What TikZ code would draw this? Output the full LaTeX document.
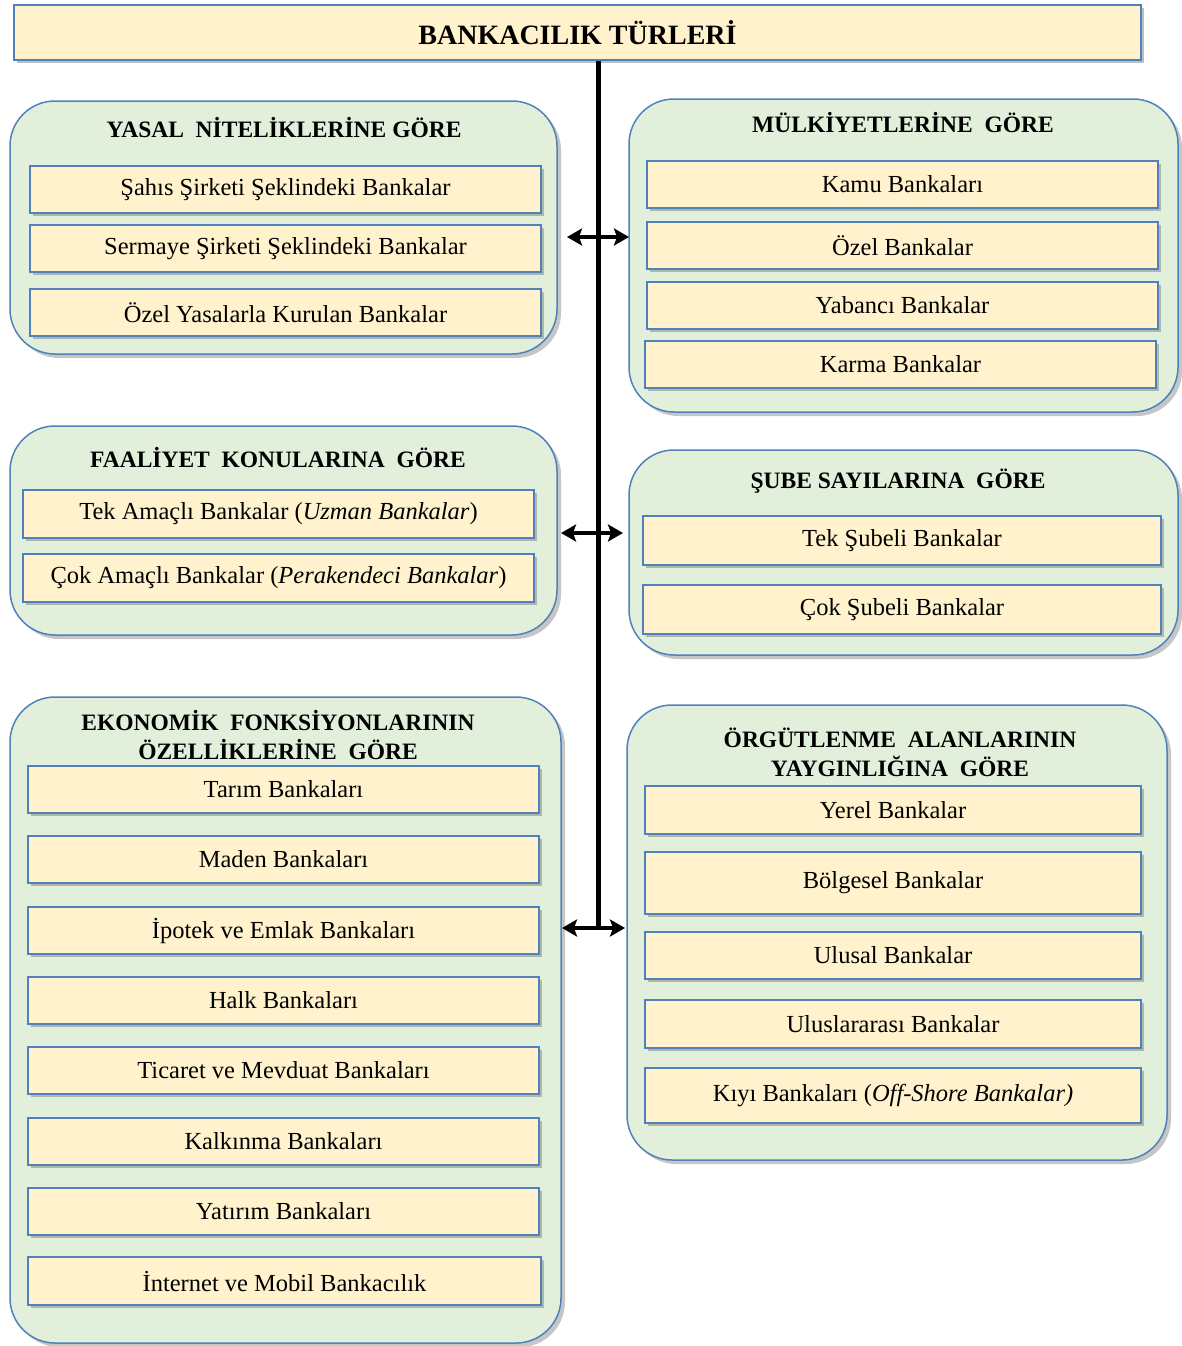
\documentclass[tikz,border=0pt]{standalone}
\usepackage{fontspec}
\setmainfont{Liberation Serif}
\usetikzlibrary{shadows,arrows.meta}
\definecolor{itemfill}{RGB}{255,242,204}
\definecolor{groupfill}{RGB}{226,239,218}
\definecolor{bordblue}{RGB}{79,129,189}
\tikzset{
  item/.style={draw=bordblue, line width=1.3pt, fill=itemfill, inner sep=0pt,
    drop shadow={opacity=0.5, shadow xshift=3pt, shadow yshift=-3pt},
    font=\fontsize{24.5}{28}\selectfont},
  group/.style={draw=bordblue, line width=1.5pt, fill=groupfill, rounded corners=45pt, inner sep=0pt,
    drop shadow={opacity=0.45, shadow xshift=4pt, shadow yshift=-4pt}},
  grouptitle/.style={font=\bfseries\fontsize{23.5}{29}\selectfont, align=center, inner sep=0pt},
  biarrow/.style={line width=4pt, {Stealth[length=15pt,width=17pt,inset=3pt]}-{Stealth[length=15pt,width=17pt,inset=3pt]}},
}
\newcommand\bx[7]{\node[#6, minimum width={(#4-#2)*1pt}, minimum height={(#5-#3)*1pt}] (#1) at ({(#2+#4)/2},{(#3+#5)/2}) {#7};}
\begin{document}
\begin{tikzpicture}[x=1pt,y=-1pt]
\useasboundingbox (0,0) rectangle (1181,1346);
% top
\bx{top}{14}{5}{1141}{60}{item}{\bfseries\fontsize{28}{32}\selectfont BANKACILIK TÜRLERİ}
% vertical spine
\coordinate (spinebot) at (598,928);
\draw[line width=5pt] (top.south -| spinebot) -- (spinebot);
% left groups
\bx{gA}{10}{101}{557}{354}{group}{}
\node[grouptitle] (tA) at (284,128) {YASAL~ NİTELİKLERİNE GÖRE};
\bx{a1}{30}{166}{541}{213}{item}{Şahıs Şirketi Şeklindeki Bankalar}
\bx{a2}{30}{225}{541}{272}{item}{Sermaye Şirketi Şeklindeki Bankalar}
\bx{a3}{30}{289}{541}{336}{item}{Özel Yasalarla Kurulan Bankalar}

\bx{gB}{10}{426}{557}{635}{group}{}
\node[grouptitle] (tB) at (278,458) {FAALİYET~ KONULARINA~ GÖRE};
\bx{b1}{23}{490}{534}{538}{item}{Tek Amaçlı Bankalar (\textit{Uzman Bankalar})}
\bx{b2}{23}{554}{534}{602}{item}{Çok Amaçlı Bankalar (\textit{Perakendeci Bankalar})}

\bx{gC}{10}{697}{561}{1343}{group}{}
\node[grouptitle] (tC) at (278,735) {EKONOMİK~ FONKSİYONLARININ\\ÖZELLİKLERİNE~ GÖRE};
\bx{c1}{28}{766}{539}{813}{item}{Tarım Bankaları}
\bx{c2}{28}{836}{539}{883}{item}{Maden Bankaları}
\bx{c3}{28}{907}{539}{954}{item}{İpotek ve Emlak Bankaları}
\bx{c4}{28}{977}{539}{1024}{item}{Halk Bankaları}
\bx{c5}{28}{1047}{539}{1094}{item}{Ticaret ve Mevduat Bankaları}
\bx{c6}{28}{1118}{539}{1165}{item}{Kalkınma Bankaları}
\bx{c7}{28}{1188}{539}{1235}{item}{Yatırım Bankaları}
\bx{c8}{28}{1257}{541}{1305}{item}{İnternet ve Mobil Bankacılık}
% right groups
\bx{gD}{629}{99}{1178}{412}{group}{}
\node[grouptitle] (tD) at (903,123) {MÜLKİYETLERİNE~ GÖRE};
\bx{d1}{647}{161}{1158}{208}{item}{Kamu Bankaları}
\bx{d2}{647}{222}{1158}{269}{item}{Özel Bankalar}
\bx{d3}{647}{282}{1158}{329}{item}{Yabancı Bankalar}
\bx{d4}{645}{341}{1156}{388}{item}{Karma Bankalar}

\bx{gE}{629}{450}{1178}{655}{group}{}
\node[grouptitle] (tE) at (898,481) {ŞUBE SAYILARINA~ GÖRE};
\bx{e1}{643}{516}{1161}{565}{item}{Tek Şubeli Bankalar}
\bx{e2}{643}{585}{1161}{634}{item}{Çok Şubeli Bankalar}

\bx{gF}{627}{705}{1167}{1160}{group}{}
\node[grouptitle] (tF) at (900,752) {ÖRGÜTLENME~ ALANLARININ\\YAYGINLIĞINA~ GÖRE};
\bx{f1}{645}{786}{1141}{834}{item}{Yerel Bankalar}
\bx{f2}{645}{852}{1141}{914}{item}{Bölgesel Bankalar}
\bx{f3}{645}{932}{1141}{979}{item}{Ulusal Bankalar}
\bx{f4}{645}{1000}{1141}{1048}{item}{Uluslararası Bankalar}
\bx{f5}{645}{1068}{1141}{1123}{item}{Kıyı Bankaları (\textit{Off-Shore Bankalar)}}
% arrows
\coordinate (ar1l) at (567,237); \coordinate (ar1r) at (629,237);
\coordinate (ar2l) at (561,533); \coordinate (ar2r) at (623,533);
\coordinate (ar3l) at (562,928); \coordinate (ar3r) at (625,928);
\draw[biarrow] (ar1l) -- (ar1r);
\draw[biarrow] (ar2l) -- (ar2r);
\draw[biarrow] (ar3l) -- (ar3r);
\end{tikzpicture}
\end{document}
